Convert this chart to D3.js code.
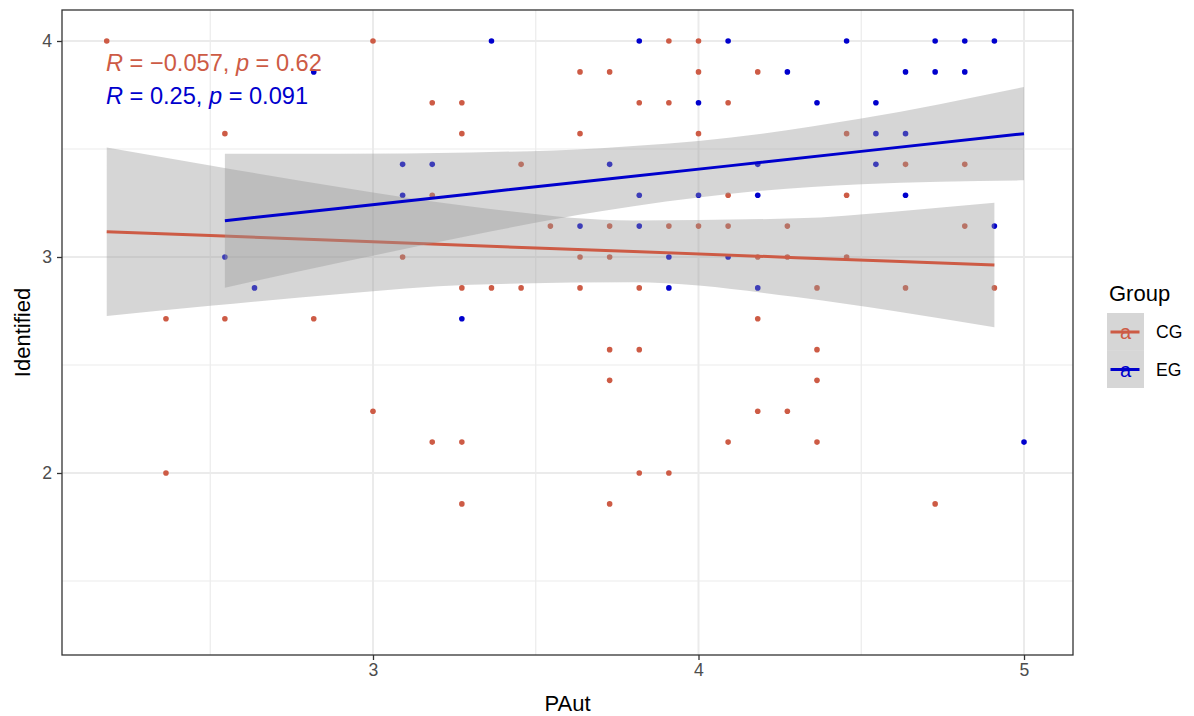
<!DOCTYPE html>
<html>
<head>
<meta charset="utf-8">
<script src="https://cdn.jsdelivr.net/npm/d3@7"></script>
<style>
  body { margin: 0; background: #fff; }
  svg { display: block; font-family: "Liberation Sans", Arial, sans-serif; }
</style>
</head>
<body>
<div id="chart"></div>
<script>
// CG group points (PAut, Identified)
const cgX = [2.182, 3.000, 2.545, 3.909, 4.000, 3.636, 3.727, 4.000, 4.182, 3.182, 3.273, 3.818, 3.909, 4.091,
  3.273, 3.636, 4.000, 4.455, 3.455, 4.636, 4.818, 3.182, 4.091, 4.455, 3.545, 3.727, 3.909, 4.000,
  4.091, 4.273, 4.818, 3.091, 3.636, 3.727, 4.182, 4.273, 4.455, 3.273, 3.364, 3.455, 3.636, 3.818,
  4.364, 4.636, 4.909, 2.364, 2.545, 2.818, 4.182, 3.727, 3.818, 4.364, 3.727, 4.364, 3.000, 4.182,
  4.273, 3.182, 3.273, 4.091, 4.364, 2.364, 3.818, 3.909, 3.273, 3.727, 4.727];
const cgY = [4.000, 4.000, 3.571, 4.000, 4.000, 3.857, 3.857, 3.857, 3.857, 3.714, 3.714, 3.714, 3.714, 3.714,
  3.571, 3.571, 3.571, 3.571, 3.429, 3.429, 3.429, 3.286, 3.286, 3.286, 3.143, 3.143, 3.143, 3.143,
  3.143, 3.143, 3.143, 3.000, 3.000, 3.000, 3.000, 3.000, 3.000, 2.857, 2.857, 2.857, 2.857, 2.857,
  2.857, 2.857, 2.857, 2.714, 2.714, 2.714, 2.714, 2.571, 2.571, 2.571, 2.429, 2.429, 2.286, 2.286,
  2.286, 2.143, 2.143, 2.143, 2.143, 2.000, 2.000, 2.000, 1.857, 1.857, 1.857];

// EG group points
const egX = [2.818, 2.545, 2.636, 3.364, 3.818, 4.091, 4.000, 3.091, 3.182, 3.727, 3.091, 3.818, 4.000,
  3.636, 3.818, 3.909, 4.091, 4.455, 4.727, 4.818, 4.909, 4.273, 4.636, 4.727, 4.818, 4.364, 4.545,
  4.545, 4.636, 4.182, 4.545, 4.182, 4.636, 4.909, 3.909, 3.273, 4.182, 5.000];
const egY = [3.857, 3.000, 2.857, 4.000, 4.000, 4.000, 3.714, 3.429, 3.429, 3.429, 3.286, 3.286, 3.286,
  3.143, 3.143, 3.000, 3.000, 4.000, 4.000, 4.000, 4.000, 3.857, 3.857, 3.857, 3.857, 3.714, 3.714,
  3.571, 3.571, 3.429, 3.429, 3.286, 3.286, 3.143, 2.857, 2.714, 2.857, 2.143];

// Linear fit and confidence band
const cgBandX = [2.182, 2.5, 2.9, 3.3, 3.8, 4.3, 4.6, 4.909];
const cgFit = [3.117, 3.099, 3.076, 3.053, 3.026, 2.997, 2.980, 2.963];
const cgLo = [2.727, 2.774, 2.829, 2.872, 2.883, 2.815, 2.750, 2.675];
const cgHi = [3.507, 3.424, 3.323, 3.234, 3.169, 3.179, 3.210, 3.251];

const egBandX = [2.545, 2.9, 3.3, 3.7, 4.1, 4.5, 5.0];
const egFit = [3.168, 3.226, 3.292, 3.358, 3.423, 3.489, 3.571];
const egLo = [2.858, 2.974, 3.100, 3.212, 3.293, 3.337, 3.355];
const egHi = [3.478, 3.478, 3.484, 3.504, 3.553, 3.641, 3.787];

// Axis ticks
const xTicks = [3, 4, 5];
const xMinor = [2.5, 3.5, 4.5];
const yTicks = [2, 3, 4];
const yMinor = [1.5, 2.5, 3.5];

const groups = ['CG', 'EG'];
const corLabels = [
  { r: '\u22120.057', p: '0.62' },
  { r: '0.25', p: '0.091' }
];

const config = {
  width: 1194,
  height: 716,
  panel: { left: 62, right: 1073, top: 10, bottom: 655 },
  colors: { CG: '#CD5B45', EG: '#0000CD' },
  grid: '#EBEBEB',
  border: '#333333',
  tickText: '#4D4D4D'
};

const svg = d3.select('#chart').append('svg')
  .attr('width', config.width)
  .attr('height', config.height);

const p = config.panel;
const x = d3.scaleLinear().domain([2.0446, 5.1505]).range([p.left, p.right]);
const y = d3.scaleLinear().domain([1.1574, 4.1435]).range([p.bottom, p.top]);

// grid
const grid = svg.append('g');
xMinor.forEach(v => grid.append('line')
  .attr('x1', x(v)).attr('x2', x(v)).attr('y1', p.top).attr('y2', p.bottom)
  .attr('stroke', config.grid).attr('stroke-width', 1.2));
yMinor.forEach(v => grid.append('line')
  .attr('x1', p.left).attr('x2', p.right).attr('y1', y(v)).attr('y2', y(v))
  .attr('stroke', config.grid).attr('stroke-width', 1.2));
xTicks.forEach(v => grid.append('line')
  .attr('x1', x(v)).attr('x2', x(v)).attr('y1', p.top).attr('y2', p.bottom)
  .attr('stroke', config.grid).attr('stroke-width', 2));
yTicks.forEach(v => grid.append('line')
  .attr('x1', p.left).attr('x2', p.right).attr('y1', y(v)).attr('y2', y(v))
  .attr('stroke', config.grid).attr('stroke-width', 2));

// points
function drawPoints(xs, ys, color) {
  svg.append('g').selectAll('circle')
    .data(xs.map((d, i) => [d, ys[i]]))
    .enter()
    .append('circle')
    .attr('cx', d => x(d[0]))
    .attr('cy', d => y(d[1]))
    .attr('r', 2.8)
    .attr('fill', color);
}
drawPoints(cgX, cgY, config.colors.CG);
drawPoints(egX, egY, config.colors.EG);

// smooth: ribbon then line, one group after the other
function drawSmooth(xs, fit, lo, hi, color) {
  const rows = xs.map((d, i) => ({ x: d, fit: fit[i], lo: lo[i], hi: hi[i] }));
  const area = d3.area()
    .x(d => x(d.x))
    .y0(d => y(d.lo))
    .y1(d => y(d.hi))
    .curve(d3.curveMonotoneX);
  svg.append('path')
    .datum(rows)
    .attr('d', area)
    .attr('fill', '#999999')
    .attr('fill-opacity', 0.4);
  const line = d3.line().x(d => x(d.x)).y(d => y(d.fit));
  svg.append('path')
    .datum(rows)
    .attr('d', line)
    .attr('fill', 'none')
    .attr('stroke', color)
    .attr('stroke-width', 3);
}
drawSmooth(cgBandX, cgFit, cgLo, cgHi, config.colors.CG);
drawSmooth(egBandX, egFit, egLo, egHi, config.colors.EG);

// correlation labels
corLabels.forEach((c, i) => {
  const t = svg.append('text')
    .attr('x', 106)
    .attr('y', 71 + i * 33)
    .attr('font-size', '23.6px')
    .attr('fill', config.colors[groups[i]]);
  t.append('tspan').attr('font-style', 'italic').text('R');
  t.append('tspan').text(' = ' + c.r + ', ');
  t.append('tspan').attr('font-style', 'italic').text('p');
  t.append('tspan').text(' = ' + c.p);
});

// panel border
svg.append('rect')
  .attr('x', p.left).attr('y', p.top)
  .attr('width', p.right - p.left).attr('height', p.bottom - p.top)
  .attr('fill', 'none')
  .attr('stroke', config.border)
  .attr('stroke-width', 1.3);

// axes
const xAxis = svg.append('g')
  .attr('transform', `translate(0, ${p.bottom})`)
  .call(d3.axisBottom(x).tickValues(xTicks).tickSize(5).tickPadding(4).tickFormat(d3.format('d')));
const yAxis = svg.append('g')
  .attr('transform', `translate(${p.left}, 0)`)
  .call(d3.axisLeft(y).tickValues(yTicks).tickSize(5).tickPadding(5).tickFormat(d3.format('d')));
[xAxis, yAxis].forEach(a => {
  a.select('.domain').remove();
  a.selectAll('.tick line').attr('stroke', config.border).attr('stroke-width', 1.3);
  a.selectAll('.tick text')
    .attr('fill', config.tickText)
    .attr('font-size', '17.6px')
    .attr('font-family', '"Liberation Sans", Arial, sans-serif');
});

// axis titles
svg.append('text')
  .attr('x', (p.left + p.right) / 2)
  .attr('y', 711)
  .attr('text-anchor', 'middle')
  .attr('font-size', '22px')
  .attr('fill', '#000')
  .text('PAut');
svg.append('text')
  .attr('transform', `translate(30, ${(p.top + p.bottom) / 2}) rotate(-90)`)
  .attr('text-anchor', 'middle')
  .attr('font-size', '22px')
  .attr('fill', '#000')
  .text('Identified');

// legend
const legend = svg.append('g').attr('transform', 'translate(1107, 0)');
legend.append('text')
  .attr('x', 2).attr('y', 301)
  .attr('font-size', '22px')
  .attr('fill', '#000')
  .text('Group');
groups.forEach((g, i) => {
  const ky = 313 + i * 37.5;
  legend.append('rect')
    .attr('x', 0).attr('y', ky)
    .attr('width', 37).attr('height', 37.5)
    .attr('fill', '#999999').attr('fill-opacity', 0.4);
  legend.append('line')
    .attr('x1', 3.5).attr('x2', 32.5)
    .attr('y1', ky + 19).attr('y2', ky + 19)
    .attr('stroke', config.colors[g]).attr('stroke-width', 3);
  legend.append('text')
    .attr('x', 18.5).attr('y', ky + 26)
    .attr('text-anchor', 'middle')
    .attr('font-size', '20px')
    .attr('fill', config.colors[g])
    .text('a');
  legend.append('text')
    .attr('x', 49).attr('y', ky + 19)
    .attr('dy', '0.35em')
    .attr('font-size', '17.6px')
    .attr('fill', '#000')
    .text(g);
});
</script>
</body>
</html>
